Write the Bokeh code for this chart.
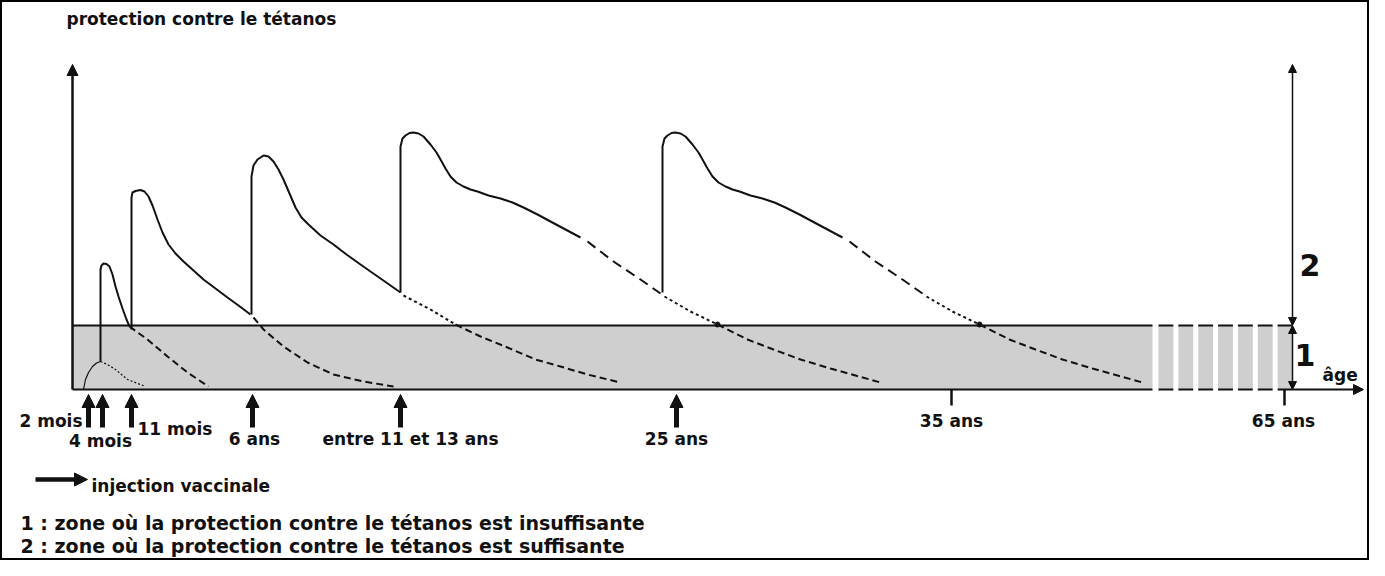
import numpy as np
from bokeh.plotting import figure
from bokeh.models import Range1d, Arrow, NormalHead, ColumnDataSource
from bokeh.embed import file_html
from bokeh.resources import INLINE
from bokeh.core.properties import value

# ---------------- data (schematic units: x = position on the age axis, y = protection level) ----
Y_AXIS_X = 72
Y_AXIS_TOP = 325
THRESHOLD = 64          # top of zone 1 (insufficient protection)
BAND_END = 1152         # end of the continuous grey band
BREAK_START = 1158
BREAK_END = 1292        # 65 years side
X_AXIS_TIP = 1363

injection_x = [88, 102, 131, 252, 400, 676]
injection_labels = ["2 mois", "4 mois", "11 mois", "6 ans", "entre 11 et 13 ans", "25 ans"]
tick_x = [951, 1284]
tick_labels = ["35 ans", "65 ans"]

# 1st injection (2 mois)
c1_up_x = [83, 85, 88, 92, 96, 100]
c1_up_y = [0, 10, 17, 23, 26.5, 28]
c1_down_x = [100, 107, 115, 127, 145]
c1_down_y = [28, 25, 20, 10, 3]
# 2nd injection (4 mois)
c2_x = [100, 100, 101, 103, 106, 109, 112, 115, 118, 122, 126, 129]
c2_y = [28, 120, 124, 126, 125.5, 123, 115, 103, 93, 81, 70, 63]
c2_tail_x = [129, 147, 167, 187, 208]
c2_tail_y = [63, 50, 33, 17, 3]
# 3rd injection (11 mois)
c3_x = [131, 131, 132, 135, 140, 144, 148, 152, 157, 162, 168, 175, 183, 193, 203, 215, 227, 238, 250]
c3_y = [60, 192, 197, 198.5, 199.5, 198, 193, 184, 170, 157, 145, 136, 128, 119, 110, 101, 92, 84, 75]
c3_tail_x = [253, 263, 283, 307, 333, 363, 393]
c3_tail_y = [72, 60, 43, 27, 15, 8, 3]
# 6 ans
c4_x = [251, 251, 253, 257, 263, 268, 273, 278, 283, 289, 295, 301, 308, 320, 333, 346, 360, 380, 400]
c4_y = [75, 213, 224, 230, 234, 233, 228, 220, 210, 196, 182, 172, 165, 154, 145, 135, 125, 111, 97]
c4_dot_x = [403, 430, 455]
c4_dot_y = [94, 80, 65]
c4_tail_x = [455, 480, 507, 535, 560, 587, 620]
c4_tail_y = [65, 53, 42, 30, 23, 15, 7]
# entre 11 et 13 ans
c5_x = [400, 400, 402, 405, 409, 413, 418, 423, 430, 436, 440, 445, 450, 456, 463, 470, 477, 488, 500,
        512, 523, 537, 550, 565, 580]
c5_y = [97, 243, 251, 254, 256.5, 257, 256, 253, 245, 237, 230, 221, 213, 207, 203, 200, 198, 194, 191,
        187, 182, 175, 168, 160, 152]
c5_long_x = [587, 613, 640, 660]
c5_long_y = [148, 128, 110, 96]
c5_dot_x = [664, 690, 717]
c5_dot_y = [93, 78, 65]
c5_tail_x = [717, 747, 773, 800, 830, 855, 880]
c5_tail_y = [65, 50, 40, 30, 21, 14, 7]
# 25 ans
c6_x = [662, 662, 664, 667, 671, 675, 680, 685, 692, 698, 702, 707, 712, 718, 725, 732, 739, 750, 762,
        774, 785, 799, 812, 827, 842]
c6_y = [97, 243, 251, 254, 256.5, 257, 256, 253, 245, 237, 230, 221, 213, 207, 203, 200, 198, 194, 191,
        187, 182, 175, 168, 160, 152]
c6_long_x = [849, 875, 902, 922]
c6_long_y = [148, 128, 110, 96]
c6_dot_x = [926, 952, 979]
c6_dot_y = [93, 78, 65]
c6_tail_x = [979, 1009, 1035, 1062, 1092, 1117, 1142]
c6_tail_y = [65, 50, 40, 30, 21, 14, 7]

legend_lines = ["1 : zone où la protection contre le tétanos est insuffisante",
                "2 : zone où la protection contre le tétanos est suffisante"]

# ---------------- figure ----------------
INK = "#111111"
GREY = "#cfcfcf"
FONT = value("DejaVu Sans")

p = figure(width=1369, height=560, x_range=Range1d(0, 1369), y_range=Range1d(-171, 389),
           output_backend="svg", toolbar_location=None, min_border=0,
           x_axis_location=None, y_axis_location=None)
p.grid.visible = False
p.outline_line_color = "black"
p.outline_line_width = 3
p.background_fill_color = "white"

# grey band (zone 1)
p.quad(left=[Y_AXIS_X], right=[BAND_END], bottom=[0], top=[THRESHOLD], fill_color=GREY, line_color=None)
p.segment(x0=[Y_AXIS_X, Y_AXIS_X], x1=[BAND_END, BAND_END], y0=[0, THRESHOLD], y1=[0, THRESHOLD],
          line_color=INK, line_width=2)
# broken part of the band
n_blocks, gap = 7, 5
bw = (BREAK_END - BREAK_START - (n_blocks - 1) * gap) / n_blocks
lefts = np.array([BREAK_START + k * (bw + gap) for k in range(n_blocks)])
rights = lefts + bw
p.quad(left=lefts, right=rights, bottom=0, top=THRESHOLD, fill_color=GREY, line_color=None)
p.segment(x0=np.concatenate([lefts, lefts]), x1=np.concatenate([rights, rights]),
          y0=[0] * n_blocks + [THRESHOLD] * n_blocks, y1=[0] * n_blocks + [THRESHOLD] * n_blocks,
          line_color=INK, line_width=2)

# curves
p.line(c1_up_x, c1_up_y, line_color=INK, line_width=1.2)
p.line(c1_down_x, c1_down_y, line_color=INK, line_width=1.2, line_dash="2 2")
p.line(c2_x, c2_y, line_color=INK, line_width=2)
p.line(c2_tail_x, c2_tail_y, line_color=INK, line_width=2, line_dash="7 4")
p.line(c3_x, c3_y, line_color=INK, line_width=2)
p.line(c3_tail_x, c3_tail_y, line_color=INK, line_width=2, line_dash="7 4")
p.line(c4_x, c4_y, line_color=INK, line_width=2)
p.line(c4_dot_x, c4_dot_y, line_color=INK, line_width=2, line_dash="3 3")
p.line(c4_tail_x, c4_tail_y, line_color=INK, line_width=2, line_dash="7 4")
for cx, cy, lx, ly, dx, dy, tx, ty in [
        (c5_x, c5_y, c5_long_x, c5_long_y, c5_dot_x, c5_dot_y, c5_tail_x, c5_tail_y),
        (c6_x, c6_y, c6_long_x, c6_long_y, c6_dot_x, c6_dot_y, c6_tail_x, c6_tail_y)]:
    p.line(cx, cy, line_color=INK, line_width=2)
    p.line(lx, ly, line_color=INK, line_width=2, line_dash="10 6")
    p.line(dx, dy, line_color=INK, line_width=2, line_dash="3 3")
    p.line(tx, ty, line_color=INK, line_width=2, line_dash="7 4")
    p.scatter([tx[0]], [ty[0]], size=5, color=INK)

# axes
p.add_layout(Arrow(end=NormalHead(size=11, fill_color=INK, line_color=INK), x_start=Y_AXIS_X, y_start=0,
                   x_end=Y_AXIS_X, y_end=Y_AXIS_TOP, line_width=2.5, line_color=INK))
p.add_layout(Arrow(end=NormalHead(size=10, fill_color=INK, line_color=INK), x_start=BREAK_END, y_start=0,
                   x_end=X_AXIS_TIP, y_end=0, line_width=2, line_color=INK))
p.add_layout(Arrow(start=NormalHead(size=8, fill_color=INK, line_color=INK),
                   end=NormalHead(size=8, fill_color=INK, line_color=INK),
                   x_start=BREAK_END, y_start=THRESHOLD, x_end=BREAK_END, y_end=Y_AXIS_TOP,
                   line_width=1.5, line_color=INK))
p.add_layout(Arrow(start=NormalHead(size=8, fill_color=INK, line_color=INK),
                   end=NormalHead(size=8, fill_color=INK, line_color=INK),
                   x_start=BREAK_END, y_start=0, x_end=BREAK_END, y_end=THRESHOLD,
                   line_width=1.5, line_color=INK))
p.segment(x0=tick_x, x1=tick_x, y0=[0, 0], y1=[-16, -16], line_color=INK, line_width=2.5)

# injection arrows
inj_src = ColumnDataSource(dict(x=injection_x, y0=[-38] * len(injection_x), y1=[-5] * len(injection_x)))
p.add_layout(Arrow(end=NormalHead(size=13, fill_color=INK, line_color=INK), source=inj_src,
                   x_start="x", y_start="y0", x_end="x", y_end="y1", line_width=5, line_color=INK))
# legend arrow
p.add_layout(Arrow(end=NormalHead(size=13, fill_color=INK, line_color=INK), x_start=35, y_start=-90,
                   x_end=87, y_end=-90, line_width=4.5, line_color=INK))


def txt(x, y, t, align="left", size="17px"):
    p.text(x=[x], y=[y], text=[t], text_font=FONT, text_font_style="bold", text_font_size=size,
           text_align=align, text_baseline="alphabetic", text_color=INK)


txt(66, 371, "protection contre le tétanos")
txt(82, -31, injection_labels[0], "right")
txt(100, -51, injection_labels[1], "center")
txt(137, -39, injection_labels[2], "left")
txt(254, -49, injection_labels[3], "center")
txt(410, -49, injection_labels[4], "center")
txt(676, -49, injection_labels[5], "center")
txt(tick_x[0], -31, tick_labels[0], "center")
txt(tick_x[1] - 1, -31, tick_labels[1], "center")
txt(1299, 125, "2", "left", "30px")
txt(1294, 35, "1", "left", "30px")
txt(1322, 15, "âge", "left")
txt(91, -96, "injection vaccinale")
txt(20, -133, legend_lines[0], size="19px")
txt(20, -156, legend_lines[1], size="19px")

open("out.html", "w").write(file_html(p, INLINE))
